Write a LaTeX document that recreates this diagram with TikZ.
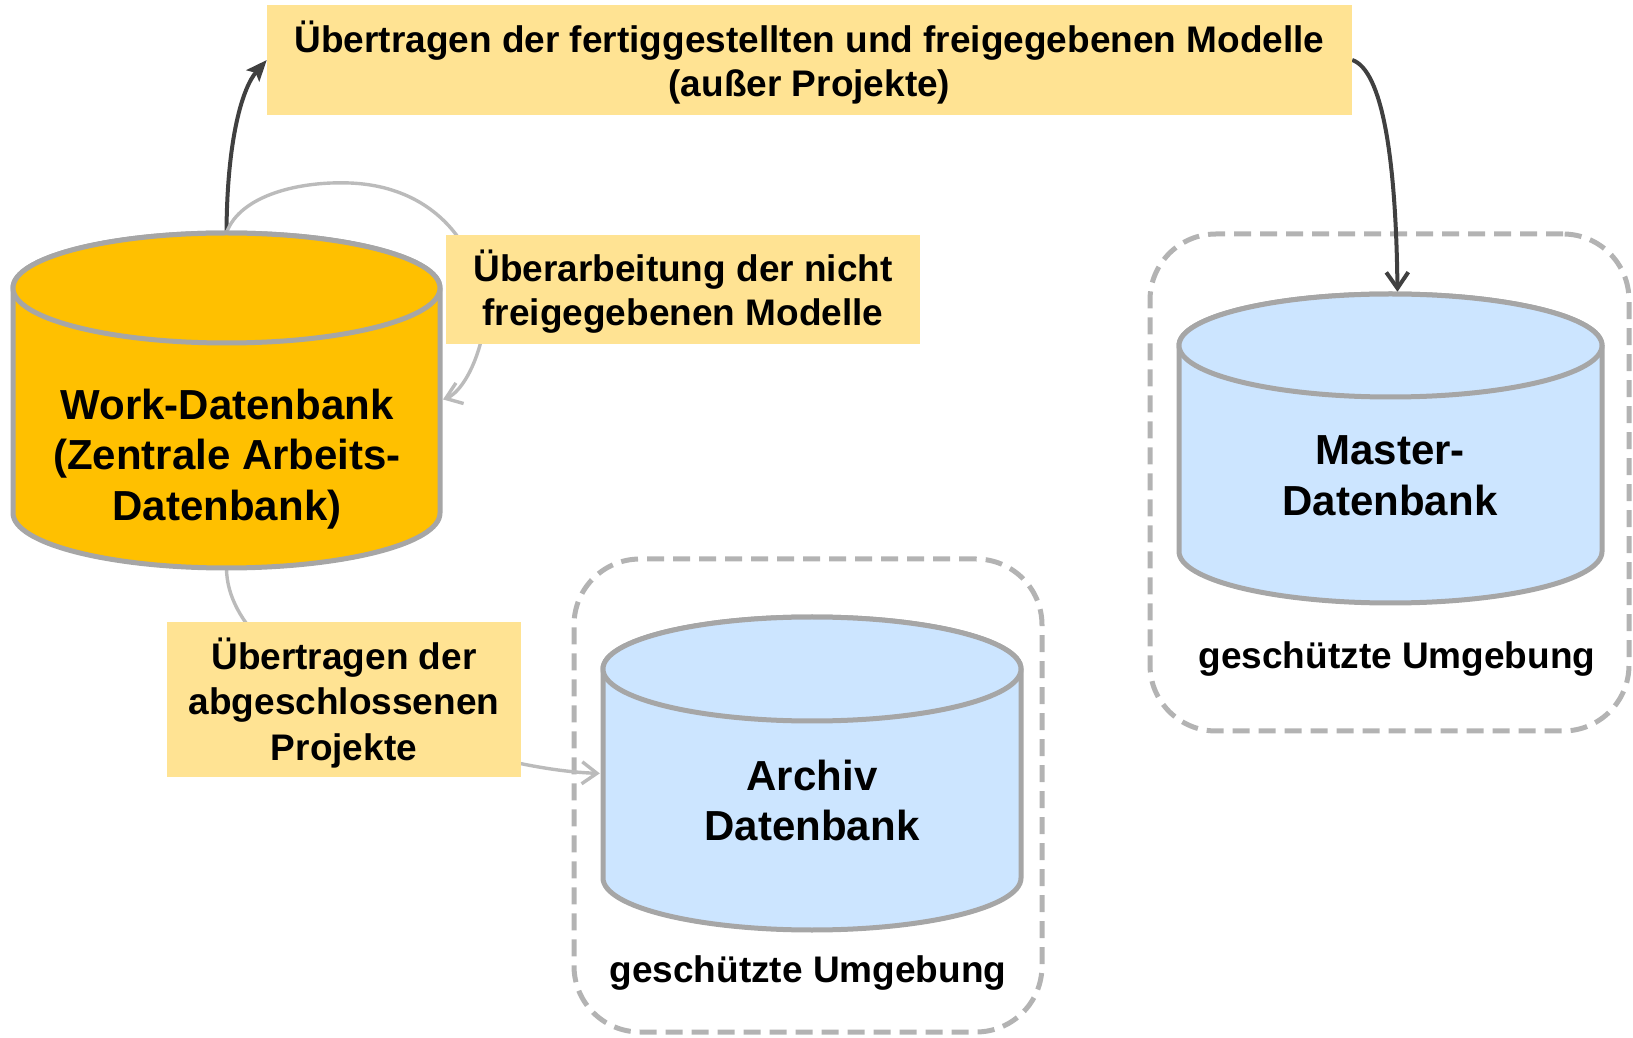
\documentclass[tikz,border=0pt]{standalone}
\usepackage{fontspec}
\setmainfont{Liberation Sans}
\usetikzlibrary{arrows.meta}

\definecolor{workfill}{HTML}{FFC000}
\definecolor{bluefill}{HTML}{CCE5FF}
\definecolor{labelfill}{HTML}{FFE393}
\definecolor{dbline}{HTML}{A6A6A6}
\definecolor{envline}{HTML}{B3B3B3}
\definecolor{arrowdark}{HTML}{404040}
\definecolor{arrowlight}{HTML}{BBBBBB}

\newcommand\lblfont{\bfseries\fontsize{37}{44}\selectfont}
\newcommand\lblfontwide{\bfseries\fontsize{37}{45.5}\selectfont}
\newcommand\dbfnt{\bfseries\fontsize{42}{50.5}\selectfont}

% database drum: centre x, top ellipse y, bottom ellipse y, x radius, y radius, style
\newcommand\dbdrum[6]{%
  \draw[#6] ({#1-#4},#2) -- ({#1-#4},#3)
    arc[start angle=180,end angle=360,x radius=#4,y radius=#5]
    -- ({#1+#4},#2)
    arc[start angle=0,end angle=180,x radius=#4,y radius=#5] -- cycle;
  \draw[#6] (#1,#2) ellipse[x radius=#4,y radius=#5];
}

\pgfdeclarelayer{bg}
\pgfsetlayers{bg,main}

\tikzset{
  labelbox/.style={fill=labelfill, inner sep=0pt},
  labeltext/.style={align=center, font=\lblfont, inner sep=0pt},
  envbox/.style={draw=envline, line width=5pt, dash pattern=on 17pt off 9pt,
                 rounded corners=66pt, inner sep=0pt},
  dbbox/.style={inner sep=0pt, draw=none},
  dbwork/.style={fill=workfill, draw=dbline, line width=5pt},
  dbblue/.style={fill=bluefill, draw=dbline, line width=5pt},
  dbtext/.style={align=center, font=\dbfnt, inner sep=0pt},
  envtext/.style={font=\lblfont, inner sep=0pt},
  darkline/.style={draw=arrowdark, line width=4pt},
  lightline/.style={draw=arrowlight, line width=3.4pt,
                    -{Straight Barb[length=15pt,width=22pt]}},
}

\begin{document}
\begin{tikzpicture}[x=1pt,y=1pt]
\useasboundingbox (0,0) rectangle (1633,1037);

% protected environments
\begin{pgfonlayer}{bg}
  \node[envbox, minimum width=468pt, minimum height=473pt] (archivenv) at (808,241.5) {};
  \node[envbox, minimum width=479pt, minimum height=497pt] (masterenv) at (1389.5,554.5) {};
\end{pgfonlayer}

% Work database
\node[dbbox, minimum width=427pt, minimum height=335pt] (work) at (226.5,636.5) {};
\dbdrum{226.5}{749}{524}{213.5}{55}{dbwork}
\node[dbtext] (worktext) at (227,578)
  {Work-Datenbank\\(Zentrale Arbeits-\\Datenbank)};

% Master database
\node[dbbox, minimum width=423pt, minimum height=309pt] (master) at (1390.5,588.5) {};
\dbdrum{1390.5}{691.5}{485.5}{211.5}{51.5}{dbblue}
\node[dbtext] (mastertext) at (1390,561) {Master-\\Datenbank};
\node[envtext] (masternote) at (1397,378) {geschützte Umgebung};

% Archive database
\node[dbbox, minimum width=418pt, minimum height=313pt] (archiv) at (812,263.5) {};
\dbdrum{812}{368}{159}{209}{52}{dbblue}
\node[dbtext] (archivtext) at (812,236.5) {Archiv\\Datenbank};
\node[envtext] (archivnote) at (808,64) {geschützte Umgebung};

% process labels
\node[labelbox, minimum width=1085pt, minimum height=110pt] (release) at (809.5,977) {};
\node[labeltext] (releasetext) at (809.5,974)
  {Übertragen der fertiggestellten und freigegebenen Modelle\\(außer Projekte)};
\node[labelbox, minimum width=474pt, minimum height=109pt] (rework) at (683,747.5) {};
\node[labeltext] (reworktext) at (683,745.5)
  {Überarbeitung der nicht\\freigegebenen Modelle};
\node[labelbox, minimum width=354pt, minimum height=155pt] (archiving) at (344,337.5) {};
\node[labeltext, font=\lblfontwide] (archivingtext) at (344,334)
  {Übertragen der\\abgeschlossenen\\Projekte};

% connectors, kept underneath the labels
\begin{pgfonlayer}{bg}
  \draw[darkline, -{Stealth[length=21pt,width=17pt,inset=4pt]}]
    (work.north) .. controls (227,900) and (243,950) .. (release.west);
  \draw[darkline, -{Straight Barb[length=16pt,width=22pt]}, shorten >=2pt]
    (release.east) .. controls (1382,967) and (1396,880) .. ([xshift=7pt]master.north);
  \draw[lightline, shorten >=3pt]
    (work.north) .. controls (240,842) and (300,856) .. (350,854)
    .. controls (450,850) and (495,767) .. (480,692)
    .. controls (470,657) and (455,642) .. (work.east);
  \draw[lightline, shorten >=3pt]
    (work.south) .. controls (227,357) and (470,268) .. (archiv.west);
\end{pgfonlayer}
\end{tikzpicture}
\end{document}
